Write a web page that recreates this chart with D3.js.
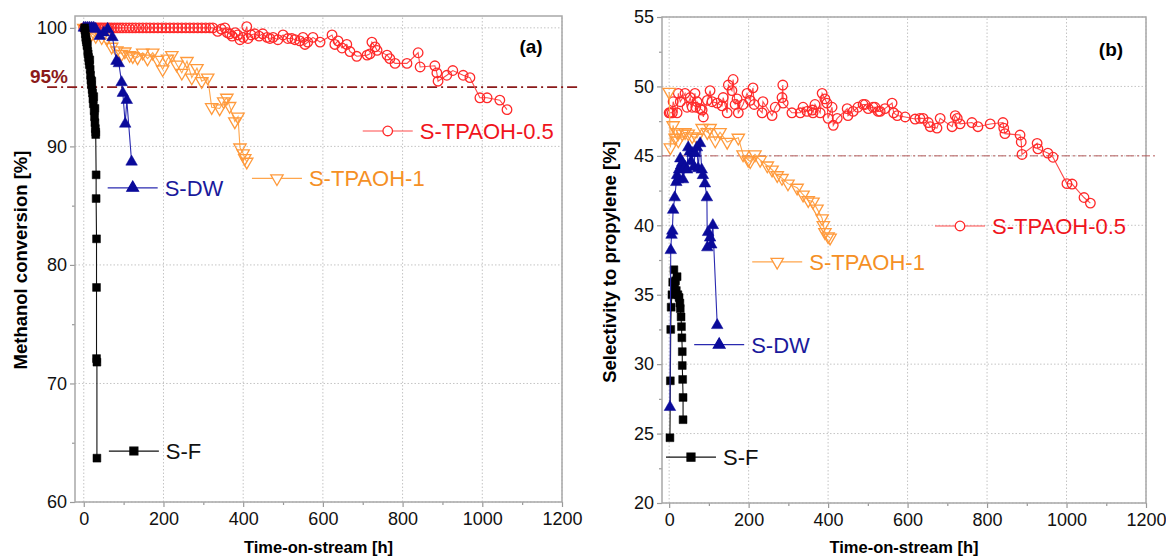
<!DOCTYPE html>
<html>
<head>
<meta charset="utf-8">
<script src="https://cdn.jsdelivr.net/npm/d3@7"></script>
<style>
  body { margin: 0; background: #fff; }
  svg text { font-family: "Liberation Sans", Arial, sans-serif; }
</style>
</head>
<body>
<svg></svg>
<script>
// ---- data: [time-on-stream (h), value (%)] ----
var xTicks = [0, 200, 400, 600, 800, 1000, 1200];
var convTicks = [60, 70, 80, 90, 100];
var selTicks = [20, 25, 30, 35, 40, 45, 50, 55];

// (a) methanol conversion
var convSF = [[2,100],[3,99.8],[4,99.5],[5,99.2],[6,99.0],[7,98.8],[8,98.5],[9,98.6],[10,98.0],[11,97.8],[12,97.5],[13,97.2],[14,96.9],[15,97.3],[16,96.5],[17,96.0],[18,95.6],[19,95.2],[20,95.5],[21,94.8],[22,94.5],[23,94.0],[24,93.6],[25,94.2],[26,93.0],[27,92.5],[28,92.0],[28,93.2],[29,91.5],[30,91.2],[30,91.0],[31,87.6],[31,85.6],[32,82.2],[32,78.1],[32,72.1],[33,71.8],[33,63.7]];
var convDW = [[0,100],[5,100],[10,100],[15,100],[20,100],[25,100],[30,99.9],[40,99.3],[50,99.6],[60,99.9],[72,99.2],[82,97.2],[88,97.0],[95,95.4],[98,94.5],[104,91.9],[108,93.9],[120,88.7]];
var convTP1 = [[0,100],[10,99.9],[20,99.5],[30,99.3],[45,99.2],[58,99.1],[70,98.4],[83,98.1],[95,97.8],[103,98.0],[115,97.7],[123,97.6],[135,97.5],[148,97.9],[160,97.4],[173,97.9],[185,97.3],[198,96.5],[210,97.4],[221,97.7],[233,96.9],[246,96.2],[259,97.2],[271,95.8],[284,96.6],[296,95.5],[311,95.8],[321,93.3],[341,93.2],[351,93.8],[359,94.1],[366,93.4],[379,92.1],[387,92.5],[392,89.9],[400,89.4],[404,89.0],[409,88.7]];
var convTP05 = [[0,100],[3,100],[6,100],[9,100],[12,100],[15,100],[19,100],[23,100],[27,100],[31,100],[36,100],[41,100],[46,100],[52,100],[58,100],[64,100],[70,100],[77,100],[84,100],[91,100],[98,100],[106,100],[114,100],[122,100],[130,100],[139,100],[148,100],[157,100],[166,100],[176,100],[186,100],[196,100],[206,100],[216,100],[226,100],[236,100],[246,100],[256,100],[266,100],[276,100],[286,100],[296,100],[306,100],[316,100],
  [324,100],[336,99.7],[345,99.9],[354,100],[360,99.6],[366,99.5],[372,99.3],[380,99.6],[386,99.4],[392,99.0],[400,99.2],[409,100.1],[412,99.1],[420,99.4],[429,99.5],[440,99.3],[449,99.5],[460,99.2],[467,99.1],[475,99.2],[487,99.0],[500,99.4],[512,99.1],[522,99.1],[530,99.0],[542,98.9],[550,99.2],[555,98.6],[562,98.8],[575,99.2],[593,98.8],[623,99.4],[630,98.6],[638,98.9],[648,98.3],[660,98.6],[668,98.0],[685,97.6],[711,97.7],[718,97.8],[723,98.8],[731,98.4],[736,98.1],[761,97.7],[768,97.4],[781,97.0],[811,97.0],[839,97.9],[844,96.7],[881,96.8],[886,96.2],[889,95.5],[911,96.0],[926,96.4],[952,96.0],[969,95.8],[994,94.1],[1012,94.1],[1044,93.9],[1062,93.1]];

// (b) selectivity to propylene
var selSF = [[2,24.7],[3,28.8],[4,32.5],[5,34.1],[7,35.0],[9,35.9],[12,36.8],[14,35.5],[16,36.0],[18,35.3],[20,36.3],[22,35.0],[25,34.8],[27,34.4],[28,34.0],[30,33.4],[31,32.7],[32,31.9],[33,30.9],[33,29.9],[34,28.9],[35,27.6],[35,26.0]];
var selDW = [[2,26.9],[4,38.2],[6,39.3],[8,39.6],[10,41.1],[14,42.0],[18,43.1],[20,43.6],[22,43.3],[25,44.0],[28,44.8],[30,44.3],[33,44.5],[35,43.3],[40,44.2],[45,44.0],[48,45.6],[52,45.3],[55,44.6],[58,45.2],[62,44.2],[65,45.2],[70,45.6],[73,44.1],[78,45.9],[82,44.0],[85,43.6],[90,43.0],[95,42.0],[96,38.4],[98,39.5],[103,39.1],[106,38.6],[110,40.0],[121,32.8]];
var selTP1 = [[0,49.6],[3,45.6],[10,47.2],[15,46.3],[20,46.7],[23,46.1],[33,46.6],[40,46.7],[48,46.6],[58,46.4],[70,46.3],[83,47.0],[96,46.7],[103,47.0],[116,46.1],[128,46.7],[146,46.0],[174,46.3],[186,45.1],[199,44.7],[204,44.6],[216,45.1],[229,44.7],[247,44.3],[259,44.0],[272,43.6],[284,43.4],[299,43.0],[322,42.7],[337,42.2],[350,41.8],[362,41.7],[372,41.2],[385,40.5],[388,40.0],[392,39.5],[400,39.2],[405,39.1]];
var selTP05 = [[0,48.1],[3,48.1],[8,48.1],[10,48.9],[20,48.1],[23,49.5],[28,48.9],[40,49.5],[45,48.5],[53,49.2],[58,48.5],[65,49.5],[67,48.5],[70,48.9],[78,48.4],[83,48.3],[86,47.8],[96,49.0],[103,49.7],[108,48.9],[121,48.8],[133,48.6],[136,49.2],[146,48.1],[149,50.1],[158,49.7],[161,50.5],[166,48.7],[171,49.1],[174,48.1],[186,48.7],[196,49.5],[204,49.0],[211,49.9],[214,48.7],[234,48.1],[236,48.9],[259,47.9],[267,48.5],[284,49.2],[286,50.1],[287,48.8],[309,48.1],[330,48.1],[337,48.5],[347,48.2],[360,48.3],[362,48.1],[367,48.7],[380,48.1],[385,49.5],[392,49.1],[397,48.8],[400,47.7],[410,48.5],[413,47.2],[423,47.7],[448,48.4],[450,47.9],[463,48.2],[475,48.5],[488,48.7],[493,48.7],[501,48.4],[513,48.5],[518,48.5],[526,48.2],[531,48.2],[543,48.4],[561,48.8],[565,48.1],[574,47.9],[594,47.8],[619,47.65],[631,47.7],[639,47.7],[652,47.4],[657,47.1],[674,47.0],[682,47.7],[712,47.1],[720,47.9],[725,47.7],[732,47.3],[762,47.4],[777,47.1],[808,47.3],[840,47.4],[842,47.0],[845,46.6],[883,46.5],[886,46.0],[888,45.1],[926,45.9],[928,45.5],[953,45.2],[966,44.9],[1001,43.0],[1014,42.97],[1044,42.0],[1060,41.6]];

// ---- styles ----
var styles = {
  "S-F":         {line: "#111", text: "#111", shape: d3.symbolSquare, size: 62, fill: "#000", stroke: "#000", rot: 0},
  "S-DW":        {line: "#2a2ab0", text: "#1a1a9c", shape: d3.symbolTriangle, size: 58, fill: "#0a0a9a", stroke: "#0a0a9a", rot: 0},
  "S-TPAOH-1":   {line: "#ffa64d", text: "#f59025", shape: d3.symbolTriangle, size: 66, fill: "none", stroke: "#ff9a3c", rot: 180},
  "S-TPAOH-0.5": {line: "#ff4a4a", text: "#f0141c", shape: d3.symbolCircle, size: 72, fill: "none", stroke: "#ff2a2a", rot: 0}
};

var svg = d3.select("svg").attr("width", 1166).attr("height", 558);

function drawPanel(p) {
  var x = d3.scaleLinear().domain(p.xDomain).range(p.xRange);
  var y = d3.scaleLinear().domain(p.yDomain).range(p.yRange);
  var g = svg.append("g");

  // grid
  g.selectAll(".gx").data(xTicks).enter().append("line")
    .attr("x1", d => x(d)).attr("x2", d => x(d))
    .attr("y1", p.yRange[0]).attr("y2", p.yRange[1])
    .attr("stroke", "#c4c4c4").attr("stroke-dasharray", "1.5,2");
  g.selectAll(".gy").data(p.yTicks).enter().append("line")
    .attr("x1", p.xRange[0]).attr("x2", p.xRange[1])
    .attr("y1", d => y(d)).attr("y2", d => y(d))
    .attr("stroke", "#c4c4c4").attr("stroke-dasharray", "1.5,2");

  // axes
  var xAxis = g.append("g").attr("transform", "translate(0," + p.yRange[0] + ")")
    .call(d3.axisBottom(x).tickValues(xTicks).tickSize(5).tickPadding(5).tickFormat(d3.format("d")));
  var xMinor = g.append("g").attr("transform", "translate(0," + p.yRange[0] + ")")
    .call(d3.axisBottom(x).tickValues(xTicks.slice(0, -1).map(d => d + 100)).tickSize(3).tickFormat(""));
  var yAxis = g.append("g").attr("transform", "translate(" + p.xRange[0] + ",0)")
    .call(d3.axisLeft(y).tickValues(p.yTicks).tickSize(5).tickPadding(3).tickFormat(d3.format("d")));
  var yMinor = g.append("g").attr("transform", "translate(" + p.xRange[0] + ",0)")
    .call(d3.axisLeft(y).tickValues(p.yTicks.slice(0, -1).map(d => d + p.yStep / 2)).tickSize(3).tickFormat(""));
  [xAxis, xMinor, yAxis, yMinor].forEach(function(a) {
    a.selectAll("path").remove();
    a.selectAll("line").attr("stroke", "#999").attr("stroke-width", 1.2);
    a.selectAll("text").attr("fill", "#111").style("font-size", "18px");
  });

  // frame
  g.append("rect")
    .attr("x", p.xRange[0]).attr("y", p.yRange[1])
    .attr("width", p.xRange[1] - p.xRange[0]).attr("height", p.yRange[0] - p.yRange[1])
    .attr("fill", "none").attr("stroke", "#a8a8a8").attr("stroke-width", 1.5);

  // reference line
  g.append("line")
    .attr("x1", x(p.ref.from)).attr("x2", x(p.ref.to))
    .attr("y1", y(p.ref.value)).attr("y2", y(p.ref.value))
    .attr("stroke", p.ref.color).attr("stroke-width", p.ref.width)
    .attr("stroke-dasharray", p.ref.dash);

  // series
  var line = d3.line().x(d => x(d[0])).y(d => y(d[1]));
  p.series.forEach(function(s) {
    var st = styles[s.name];
    g.append("path").datum(s.data)
      .attr("fill", "none").attr("stroke", st.line).attr("stroke-width", 1.1)
      .attr("d", line);
    g.selectAll(null).data(s.data).enter().append("path")
      .attr("d", d3.symbol().type(st.shape).size(st.size))
      .attr("transform", d => "translate(" + x(d[0]) + "," + y(d[1]) + ") rotate(" + st.rot + ")")
      .attr("fill", st.fill).attr("stroke", st.stroke).attr("stroke-width", st.fill === "none" ? 1.3 : 0.5);
  });

  // in-plot labels
  p.labels.forEach(function(l) {
    var st = styles[l.name];
    var x0 = x(l.t), y0 = y(l.v);
    g.append("line").attr("x1", x0).attr("x2", x0 + 50).attr("y1", y0).attr("y2", y0)
      .attr("stroke", st.line).attr("stroke-width", 1.2);
    g.append("path")
      .attr("d", d3.symbol().type(st.shape).size(st.size))
      .attr("transform", "translate(" + (x0 + 25) + "," + y0 + ") rotate(" + st.rot + ")")
      .attr("fill", st.fill === "none" ? "#fff" : st.fill).attr("stroke", st.stroke).attr("stroke-width", 1.3);
    g.append("text").attr("x", x0 + 57).attr("y", y0).attr("dy", "0.36em")
      .attr("fill", st.text).style("font-size", "22px").text(l.name);
  });

  // titles
  g.append("text")
    .attr("x", (p.xRange[0] + p.xRange[1]) / 2).attr("y", 553)
    .attr("text-anchor", "middle").style("font-size", "16.5px").style("font-weight", "bold")
    .text("Time-on-stream [h]");
  g.append("text")
    .attr("transform", "translate(" + p.yTitleX + "," + p.yTitleY + ") rotate(-90)")
    .attr("text-anchor", "middle").style("font-size", "18.5px").style("font-weight", "bold")
    .text(p.yTitle);
  g.append("text")
    .attr("x", p.tag.x).attr("y", p.tag.y).attr("text-anchor", "middle")
    .style("font-size", "19px").style("font-weight", "bold").text(p.tag.text);
  return {x: x, y: y, g: g};
}

var a = drawPanel({
  xDomain: [-22, 1200], xRange: [75, 562],
  yDomain: [60, 101], yRange: [502, 16],
  yTicks: convTicks, yStep: 10,
  ref: {value: 95, from: -92, to: 1245, color: "#8b1a1a", width: 1.6, dash: "10,4,2,4"},
  series: [
    {name: "S-TPAOH-0.5", data: convTP05},
    {name: "S-TPAOH-1", data: convTP1},
    {name: "S-DW", data: convDW},
    {name: "S-F", data: convSF}
  ],
  labels: [
    {name: "S-TPAOH-0.5", t: 700, v: 91.3},
    {name: "S-TPAOH-1", t: 422, v: 87.3},
    {name: "S-DW", t: 60, v: 86.5},
    {name: "S-F", t: 63, v: 64.3}
  ],
  yTitle: "Methanol conversion [%]", yTitleX: 27, yTitleY: 260,
  tag: {text: "(a)", x: 531, y: 53}
});
a.g.append("text").attr("x", 68).attr("y", 83).attr("text-anchor", "end")
  .attr("fill", "#8b1a1a").style("font-size", "19px").style("font-weight", "bold").text("95%");

drawPanel({
  xDomain: [-18, 1200], xRange: [662, 1146],
  yDomain: [20, 55], yRange: [503, 17],
  yTicks: selTicks, yStep: 5,
  ref: {value: 45, from: -18, to: 1225, color: "#b55a5a", width: 1, dash: "8,3,2,3"},
  series: [
    {name: "S-TPAOH-0.5", data: selTP05},
    {name: "S-TPAOH-1", data: selTP1},
    {name: "S-F", data: selSF},
    {name: "S-DW", data: selDW}
  ],
  labels: [
    {name: "S-TPAOH-0.5", t: 669, v: 39.95},
    {name: "S-TPAOH-1", t: 209, v: 37.36},
    {name: "S-DW", t: 63, v: 31.4},
    {name: "S-F", t: -8, v: 23.3}
  ],
  yTitle: "Selectivity to propylene [%]", yTitleX: 616, yTitleY: 262,
  tag: {text: "(b)", x: 1111, y: 56}
});
</script>
</body>
</html>
